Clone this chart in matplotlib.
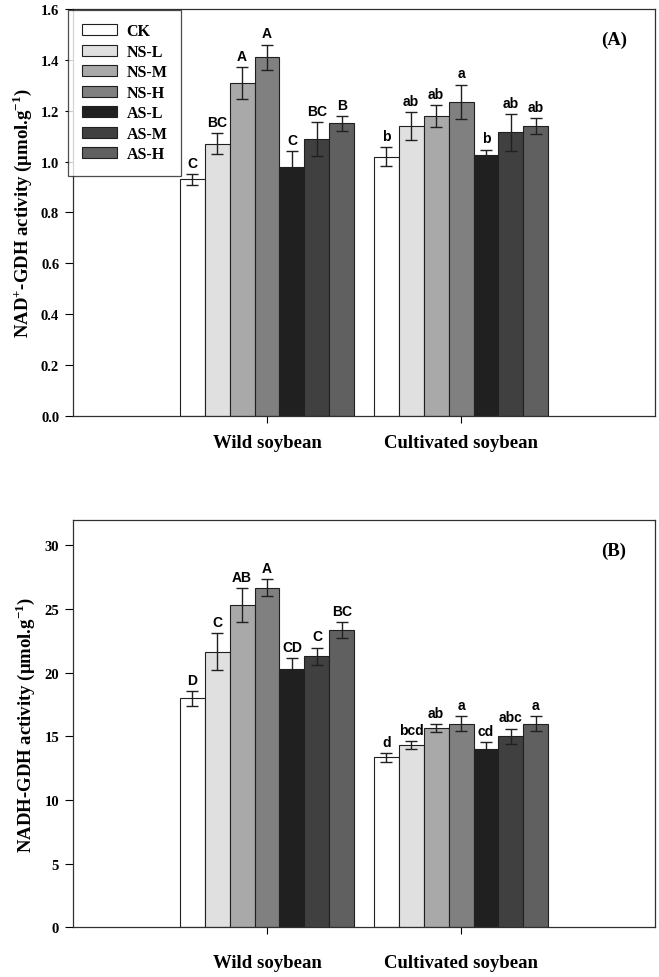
import matplotlib
matplotlib.use("Agg")
import matplotlib.pyplot as plt
import numpy as np

groups = ['Wild soybean', 'Cultivated soybean']
treatments = ['CK', 'NS-L', 'NS-M', 'NS-H', 'AS-L', 'AS-M', 'AS-H']
colors = ['#ffffff', '#e0e0e0', '#a9a9a9', '#808080', '#202020', '#404040', '#606060']

# NAD+-GDH (panel A), rows = treatments, columns = groups
nad_mean = [[0.93, 1.02], [1.07, 1.14], [1.31, 1.18], [1.41, 1.235],
            [0.98, 1.025], [1.09, 1.115], [1.15, 1.14]]
nad_err = [[0.022, 0.036], [0.042, 0.055], [0.062, 0.042], [0.05, 0.068],
           [0.062, 0.022], [0.067, 0.072], [0.03, 0.03]]
nad_letters = [['C', 'b'], ['BC', 'ab'], ['A', 'ab'], ['A', 'a'],
               ['C', 'b'], ['BC', 'ab'], ['B', 'ab']]

# NADH-GDH (panel B)
nadh_mean = [[18.0, 13.35], [21.65, 14.33], [25.3, 15.68], [26.67, 15.98],
             [20.33, 14.02], [21.3, 15.02], [23.35, 15.98]]
nadh_err = [[0.58, 0.33], [1.47, 0.32], [1.35, 0.3], [0.68, 0.59],
            [0.83, 0.56], [0.67, 0.59], [0.65, 0.59]]
nadh_letters = [['D', 'd'], ['C', 'bcd'], ['AB', 'ab'], ['A', 'a'],
                ['CD', 'cd'], ['C', 'abc'], ['BC', 'a']]

serif = 'Liberation Serif'
sans = 'Liberation Sans'
plt.rcParams['mathtext.fontset'] = 'custom'
plt.rcParams['mathtext.rm'] = 'Liberation Serif'
plt.rcParams['mathtext.bf'] = 'Liberation Serif:bold'

fig = plt.figure(figsize=(6.59, 9.78), dpi=100)
ax1 = fig.add_axes([0.1108, 0.5736, 0.8832, 0.4162])
ax2 = fig.add_axes([0.1108, 0.0508, 0.8832, 0.4165])

x = np.arange(1, len(groups) + 1)
width = 0.9 / len(treatments)


def draw_panel(ax, means, errs, letters, ylim, yticks, ticklabels, ylabel, tag, xpad):
    for i, t in enumerate(treatments):
        pos = x - 0.45 + width * (i + 0.5)
        ax.bar(pos, means[i], width, color=colors[i], edgecolor='#202020',
               linewidth=0.8, label=t, zorder=2)
        ax.errorbar(pos, means[i], yerr=errs[i], fmt='none', ecolor='#202020',
                    elinewidth=1.0, capsize=4.5, capthick=1.0, zorder=3)
        for j in range(len(groups)):
            ax.annotate(letters[i][j], (pos[j], means[i][j] + errs[i][j]),
                        xytext=(0, 3), textcoords='offset points',
                        ha='center', va='bottom', fontsize=10,
                        fontweight='bold', family=sans)
    ax.set_xlim(0, 3)
    ax.set_ylim(*ylim)
    ax.set_xticks(x)
    ax.set_xticklabels(groups, fontsize=13.5, fontweight='bold', family=serif)
    ax.set_yticks(yticks)
    ax.set_yticklabels(ticklabels, fontsize=10.5, fontweight='bold', family=serif)
    ax.tick_params(axis='x', direction='out', length=5, pad=xpad, width=0.8)
    ax.tick_params(axis='y', direction='out', length=6, pad=4, width=0.8)
    ax.set_ylabel(ylabel, fontsize=13.5, fontweight='bold', family=serif, labelpad=5)
    for s in ax.spines.values():
        s.set_linewidth(0.9)
        s.set_color('#303030')
    ax.text(0.9296, 0.925, tag, transform=ax.transAxes, ha='center', va='center',
            fontsize=13.5, fontweight='bold', family=serif)


ticks_a = [0.0, 0.2, 0.4, 0.6, 0.8, 1.0, 1.2, 1.4, 1.6]
draw_panel(ax1, nad_mean, nad_err, nad_letters, (0, 1.6), ticks_a,
           ['%.1f' % v for v in ticks_a],
           r'NAD$^{\mathbf{+}}$-GDH activity (μmol.g$^{\mathbf{-1}}$)', '(A)', 8)

ticks_b = [0, 5, 10, 15, 20, 25, 30]
draw_panel(ax2, nadh_mean, nadh_err, nadh_letters, (0, 32), ticks_b,
           ['%d' % v for v in ticks_b],
           r'NADH-GDH activity (μmol.g$^{\mathbf{-1}}$)', '(B)', 14)

leg = ax1.legend(loc='upper left', bbox_to_anchor=(-0.008, 0.998), frameon=True,
                 fancybox=False, edgecolor='#202020',
                 prop={'family': serif, 'weight': 'bold', 'size': 11.5},
                 handlelength=2.2, handleheight=0.7, labelspacing=0.28,
                 borderpad=0.85, handletextpad=0.6, borderaxespad=0.0)
leg.get_frame().set_linewidth(0.9)

fig.savefig('out.png', dpi=100)
